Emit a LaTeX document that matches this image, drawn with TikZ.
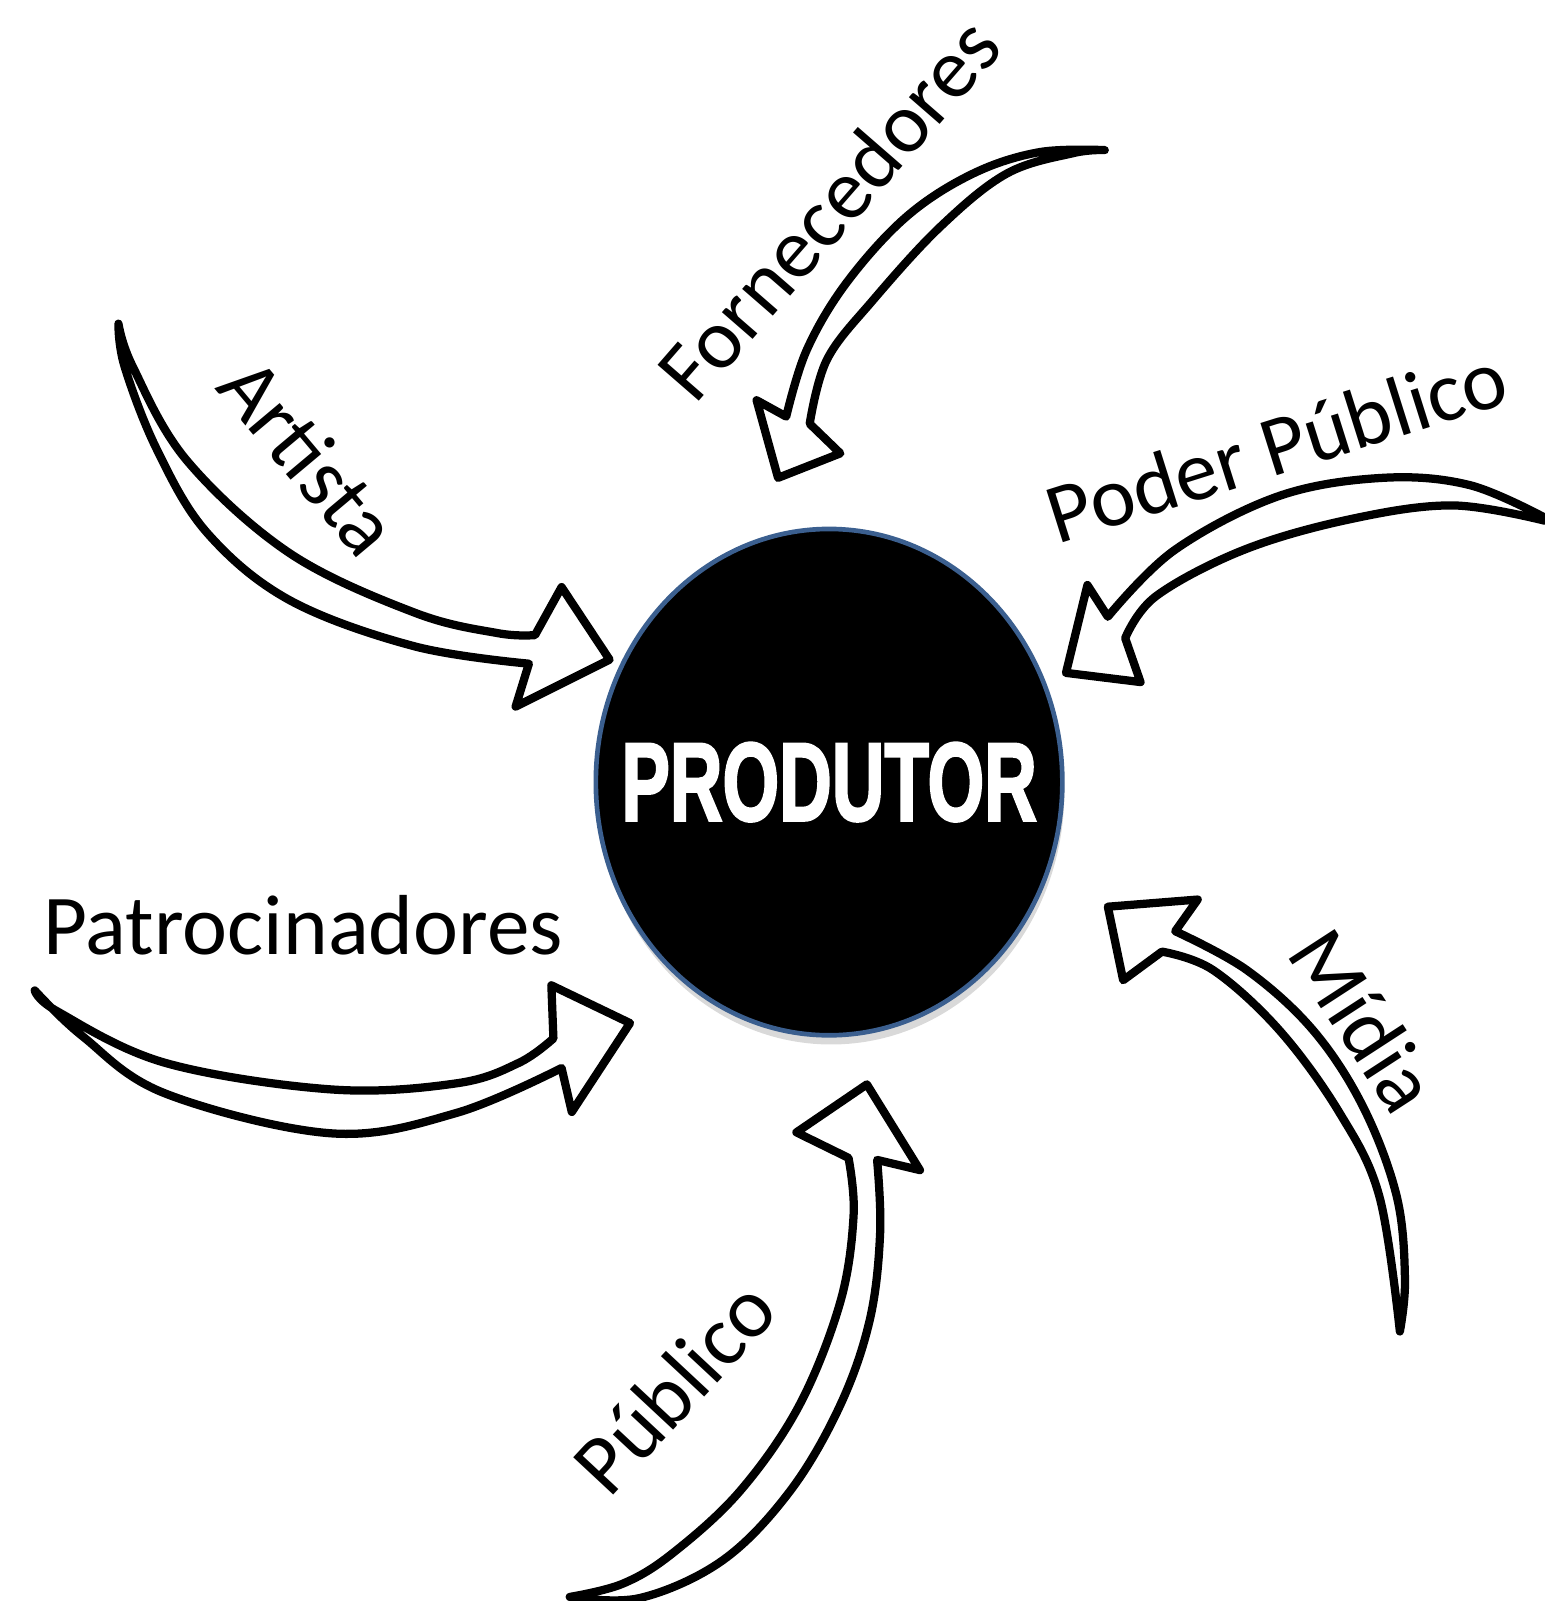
\documentclass[tikz,border=0pt]{standalone}
\usepackage{fontspec}
\setmainfont{Carlito}
\newfontfamily\headfont{Liberation Sans}[BoldFeatures={FakeBold=2.5}]
\usepackage{graphicx}
\usetikzlibrary{shapes.geometric,shadows}
\definecolor{rimblue}{HTML}{3B5F8F}

\begin{document}
\begin{tikzpicture}[
  x=0.02cm, y=-0.02cm,
  hub/.style={
    ellipse,
    draw=rimblue,
    line width=2.6pt,
    fill=black,
    inner sep=0pt,
    minimum width=9.14cm,
    minimum height=9.92cm,
    drop shadow={opacity=0.3,shadow xshift=0.4mm,shadow yshift=-1.8mm}
  },
  title/.style={
    text=white,
    inner sep=0pt,
    font=\headfont\bfseries\fontsize{62}{66}\selectfont
  },
  actor/.style={inner sep=0pt,font=\fontsize{47.5}{52}\selectfont},
  sketch/.style={
    draw=black,
    line width=4.6pt,
    line join=round,
    line cap=round
  }
]
\useasboundingbox (0,0) rectangle (1513,1568);

% Central node
\node[hub] (produtor) at (812,766) {};
\node[title] (produtortext) at (produtor.center) {\scalebox{0.655}[1]{PRODUTOR}};

% Labels round the centre
\node[actor,rotate=-50] (artista) at (303,447) {Artista};
\node[actor,rotate=49] (fornecedores) at (811,204) {Fornecedores};
\node[actor,rotate=17.5] (poder) at (1250,436) {Poder Público};
\node[actor,anchor=base] (patrocinadores) at (297,935) {Patrocinadores};
\node[actor,rotate=-57] (midia) at (1336,999) {Mídia};
\node[actor,rotate=47] (publico) at (660,1358) {Público};

% Hollow hand-drawn arrows
\draw[sketch] plot[smooth,tension=0.6] coordinates
    {(116,317) (122,359) (154,441) (203,522) (284,588) (406,633) (518,650)}
  -- (505,692) -- (597,646) -- (550,575) -- (524,622)
  -- plot[smooth,tension=0.6] coordinates
    {(524,622) (487,620) (406,600) (284,542) (183,451) (130,359) (116,317)};
\draw[sketch] plot[smooth,tension=0.6] coordinates
    {(1082,147) (1018,149) (953,170) (888,212) (829,277) (790,343) (770,408)}
  -- (741,392) -- (762,468) -- (823,444) -- (793,415)
  -- plot[smooth,tension=0.6] coordinates
    {(793,415) (810,352) (855,294) (921,222) (986,170) (1051,150) (1082,147)};
\draw[sketch] plot[smooth,tension=0.6] coordinates
    {(1513,507) (1439,475) (1354,468) (1252,486) (1150,539) (1085,604)}
  -- (1065,573) -- (1044,659) -- (1117,668) -- (1102,625)
  -- plot[smooth,tension=0.6] coordinates
    {(1102,625) (1132,584) (1217,539) (1320,509) (1422,495) (1513,510)};
\draw[sketch] plot[smooth,tension=0.6] coordinates
    {(34,970) (57,991) (162,1041) (325,1067) (447,1061) (508,1041) (542,1017)}
  -- (540,965) -- (617,1002) -- (560,1089) -- (550,1046)
  -- plot[smooth,tension=0.6] coordinates
    {(550,1046) (447,1090) (325,1110) (162,1071) (81,1015) (34,970)};
\draw[sketch] plot[smooth,tension=0.6] coordinates
    {(558,1564) (610,1551) (659,1521) (725,1460) (783,1376) (823,1275) (836,1190) (831,1134)}
  -- (780,1109) -- (849,1062) -- (901,1146) -- (859,1136)
  -- plot[smooth,tension=0.6] coordinates
    {(859,1136) (862,1207) (852,1292) (823,1376) (774,1460) (708,1528) (627,1565) (558,1564)};
\draw[sketch] plot[smooth,tension=0.6] coordinates
    {(1371,1304) (1376,1253) (1368,1172) (1335,1084) (1286,1009) (1221,950) (1151,912)}
  -- (1173,881) -- (1085,888) -- (1100,960) -- (1138,932)
  -- plot[smooth,tension=0.6] coordinates
    {(1138,932) (1188,950) (1253,1009) (1312,1090) (1351,1172) (1371,1304)};
\end{tikzpicture}
\end{document}
